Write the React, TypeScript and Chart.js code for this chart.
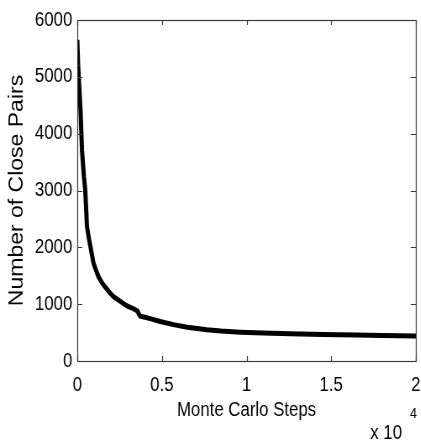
import React, { useEffect, useRef } from "react";
import { Chart, registerables } from "chart.js";

Chart.register(...registerables);

const steps = [0, 50, 120, 190, 280, 390, 470, 520, 570, 670, 770, 960, 1100, 1260, 1450, 1650, 1900, 2140, 2450, 2730, 3000, 3320, 3550, 3650, 3720, 4000, 4300, 4900, 5680, 6500, 7650, 8500, 9620, 11000, 12570, 14500, 16500, 18000, 20000];
const closePairs = [5650, 5200, 4800, 4420, 3700, 3250, 3000, 2700, 2370, 2180, 2020, 1720, 1600, 1480, 1380, 1300, 1210, 1130, 1070, 1010, 960, 920, 880, 820, 790, 770, 745, 695, 640, 595, 550, 528, 508, 492, 478, 468, 458, 450, 440];
const xTickValues = [0, 5000, 10000, 15000, 20000];
const xTickLabels = ["0", "0.5", "1", "1.5", "2"];
const yTickValues = [0, 1000, 2000, 3000, 4000, 5000, 6000];
const xTitle = "Monte Carlo Steps";
const yTitle = "Number of Close Pairs";
const multiplierBase = "x 10";
const multiplierExp = "4";

const SX = 0.84;
const W = Math.round(421 / SX);
const H = 442;
const SANS = "'Liberation Sans', Arial, sans-serif";

const boxPlugin = {
  id: "boxPlugin",
  afterDraw(chart: any) {
    const { ctx, chartArea } = chart;
    const { left, right, top, bottom } = chartArea;
    const xs = chart.scales.x;
    const ys = chart.scales.y;
    ctx.save();
    ctx.strokeStyle = "#3a3a3a";
    ctx.lineWidth = 1.2;
    ctx.strokeRect(left + 0.5, top + 0.5, right - left, bottom - top);
    const tlx = 6;
    const tly = 5;
    ctx.beginPath();
    xTickValues.forEach((v) => {
      const px = Math.round(xs.getPixelForValue(v)) + 0.5;
      ctx.moveTo(px, bottom);
      ctx.lineTo(px, bottom - tly);
      ctx.moveTo(px, top);
      ctx.lineTo(px, top + tly);
    });
    yTickValues.forEach((v) => {
      const py = Math.round(ys.getPixelForValue(v)) + 0.5;
      ctx.moveTo(left, py);
      ctx.lineTo(left + tlx, py);
      ctx.moveTo(right, py);
      ctx.lineTo(right - tlx, py);
    });
    ctx.stroke();
    ctx.fillStyle = "#000";
    ctx.textBaseline = "alphabetic";
    ctx.textAlign = "right";
    ctx.font = `20px ${SANS}`;
    ctx.fillText(multiplierBase, 402 / SX, 439);
    ctx.font = `15px ${SANS}`;
    ctx.textAlign = "left";
    ctx.fillText(multiplierExp, 410 / SX, 418);
    ctx.restore();
  },
};

export default function App() {
  const ref = useRef<HTMLCanvasElement | null>(null);
  useEffect(() => {
    document.body.style.margin = "0";
    const chart = new Chart(ref.current as HTMLCanvasElement, {
      type: "line",
      data: {
        datasets: [
          {
            data: steps.map((s, i) => ({ x: s, y: closePairs[i] })),
            borderColor: "#000",
            borderWidth: 5,
            pointRadius: 0,
            tension: 0,
            fill: false,
          },
        ],
      },
      options: {
        animation: false,
        responsive: false,
        maintainAspectRatio: false,
        layout: { padding: { left: 0, top: 20, right: Math.round(5 / SX), bottom: 0 } },
        plugins: { legend: { display: false }, tooltip: { enabled: false } },
        scales: {
          x: {
            type: "linear",
            min: 0,
            max: 20000,
            afterFit: (s: any) => {
              s.height = 81;
              s.paddingLeft = 0;
              s.paddingRight = 0;
            },
            afterBuildTicks: (s: any) => {
              s.ticks = xTickValues.map((v) => ({ value: v }));
            },
            grid: { display: false, drawTicks: false },
            border: { display: false },
            ticks: {
              padding: 12,
              color: "#000",
              font: { family: SANS, size: 20 },
              maxRotation: 0,
              autoSkip: false,
              callback: (v: any) => {
                const i = xTickValues.indexOf(Number(v));
                return i >= 0 ? xTickLabels[i] : "";
              },
            },
            title: {
              display: true,
              text: xTitle,
              color: "#000",
              font: { family: SANS, size: 20 },
              padding: { top: 0, bottom: 20 },
            },
          },
          y: {
            type: "linear",
            min: 0,
            max: 6000,
            afterFit: (s: any) => {
              s.width = Math.round(77 / SX);
              s.paddingTop = 0;
              s.paddingBottom = 0;
            },
            afterBuildTicks: (s: any) => {
              s.ticks = yTickValues.map((v) => ({ value: v }));
            },
            grid: { display: false, drawTicks: false },
            border: { display: false },
            ticks: {
              padding: 6,
              color: "#000",
              font: { family: SANS, size: 20 },
              autoSkip: false,
              callback: (v: any) => String(v),
            },
            title: {
              display: true,
              text: yTitle,
              color: "#000",
              font: { family: SANS, size: 23 },
              padding: { top: 7, bottom: 0 },
            },
          },
        },
      },
      plugins: [boxPlugin],
    });
    return () => chart.destroy();
  }, []);
  return (
    <div style={{ position: "absolute", left: 0, top: 0, width: 421, height: 442, overflow: "hidden", background: "#fff" }}>
      <div style={{ width: W, height: H, transform: `scaleX(${SX})`, transformOrigin: "0 0" }}>
        <canvas ref={ref} width={W} height={H} style={{ width: W, height: H, display: "block" }} />
      </div>
    </div>
  );
}
